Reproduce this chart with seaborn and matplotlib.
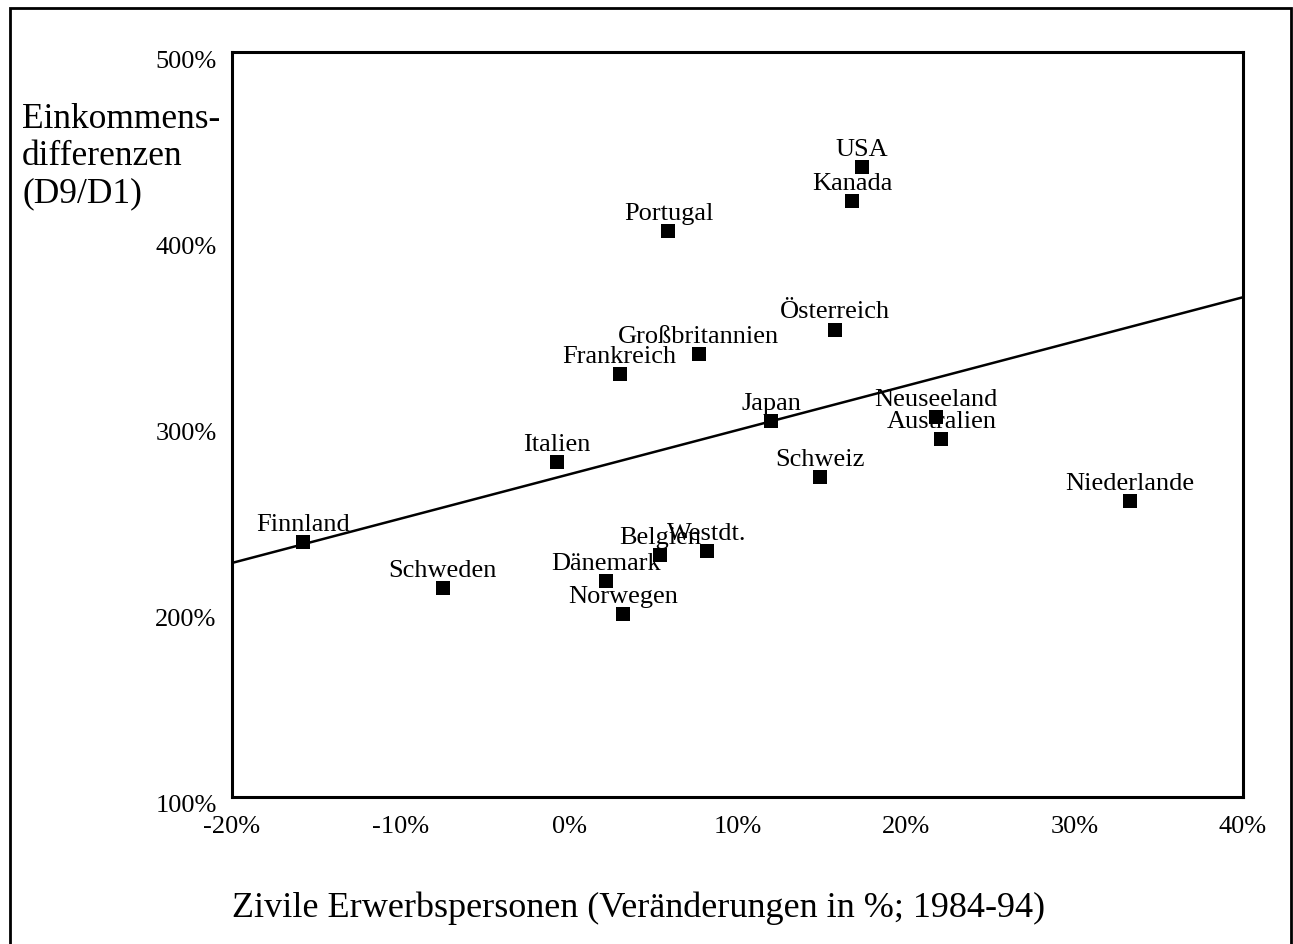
import matplotlib
matplotlib.use("Agg")
import matplotlib.pyplot as plt
import matplotlib.patches as patches
import matplotlib.transforms as mtransforms
import seaborn as sns
import pandas as pd

# data (percent)
countries = ["USA", "Kanada", "Portugal", "Österreich", "Großbritannien",
             "Frankreich", "Japan", "Neuseeland", "Australien", "Italien",
             "Schweiz", "Niederlande", "Finnland", "Belgien", "Westdt.",
             "Dänemark", "Schweden", "Norwegen"]
erwerb = [17.4, 16.8, 5.9, 15.8, 7.7, 3.0, 12.0, 21.8, 22.1, -0.7,
          14.9, 33.3, -15.8, 5.4, 8.2, 2.2, -7.5, 3.2]
einkommen = [438, 420, 404, 351, 338, 327, 302, 304, 292, 280,
             272, 259, 237, 230, 232, 216, 212, 198]
xticks = [-20, -10, 0, 10, 20, 30, 40]
yticks = [100, 200, 300, 400, 500]

df = pd.DataFrame({"land": countries, "x": erwerb, "y": einkommen})

sns.set_style("white")
plt.rcParams["font.family"] = ["Liberation Serif", "DejaVu Serif"]
plt.rcParams["text.color"] = "black"
plt.rcParams["xtick.color"] = "black"
plt.rcParams["ytick.color"] = "black"

fig = plt.figure(figsize=(12.93, 9.44), dpi=100)
ax = fig.add_axes([232 / 1293, 1 - 797 / 944, (1243 - 232) / 1293, (797 - 52) / 944])
ax.set_xlim(-20, 40)
ax.set_ylim(100, 500)

sns.regplot(data=df, x="x", y="y", ax=ax, ci=None, truncate=False, marker="s",
            scatter_kws={"s": 110, "color": "black", "alpha": 1, "linewidths": 0},
            line_kws={"color": "black", "lw": 1.8})

for _, r in df.iterrows():
    ax.annotate(r["land"], (r["x"], r["y"]), xytext=(0, 8), textcoords="offset points",
                ha="center", va="baseline", fontsize=19)

ax.set_xticks(xticks)
ax.set_yticks(yticks)
ax.set_xticklabels([f"{t}%" for t in xticks], fontsize=19)
ax.set_yticklabels([f"{t}%" for t in yticks], fontsize=19)
ax.tick_params(axis="both", direction="out", length=5, width=4, color="black")
ax.tick_params(axis="x", pad=9)
ax.tick_params(axis="y", pad=6)
off = mtransforms.ScaledTranslation(0, -7 / 100, fig.dpi_scale_trans)
for lab in ax.get_yticklabels():
    lab.set_transform(lab.get_transform() + off)

for s in ax.spines.values():
    s.set_color("black")
    s.set_linewidth(2.2)

ax.set_xlabel("")
ax.set_ylabel("")
fig.text(22 / 1293, 1 - 103 / 944, "Einkommens-\ndifferenzen\n(D9/D1)",
         fontsize=25.5, ha="left", va="top", linespacing=1.17)
fig.text(232 / 1293, 1 - 908 / 944, "Zivile Erwerbspersonen (Veränderungen in %; 1984-94)",
         fontsize=26, ha="left", va="center")

fig.patches.append(patches.Rectangle((10 / 1293, -0.02), (1291 - 10) / 1293, 1.02 - 8 / 944,
                                     transform=fig.transFigure, fill=False,
                                     edgecolor="black", lw=2))

fig.savefig("out.png", dpi=100)
